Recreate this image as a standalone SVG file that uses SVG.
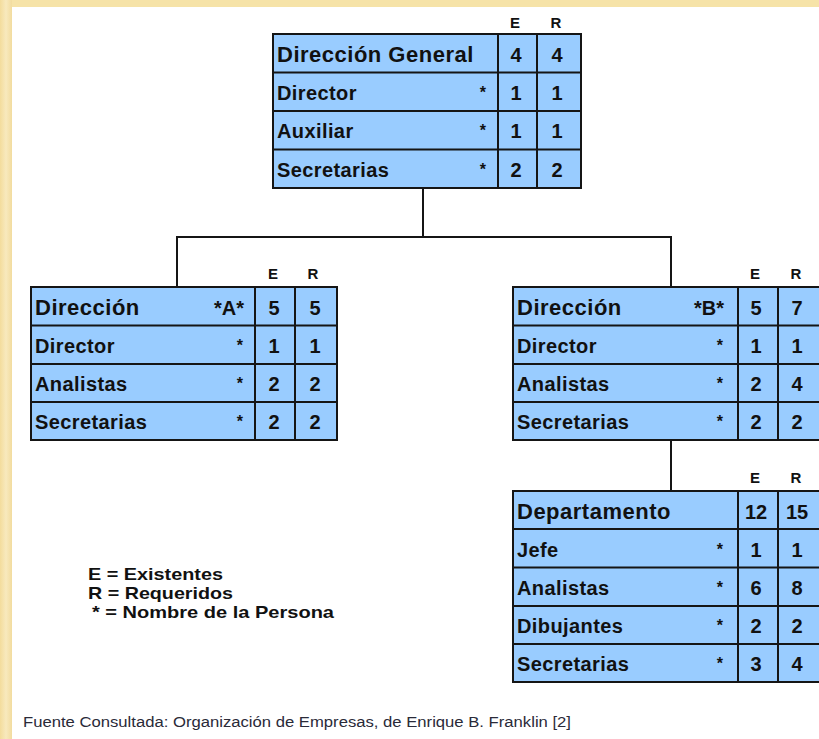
<svg xmlns="http://www.w3.org/2000/svg" width="819" height="739" viewBox="0 0 819 739">
<defs>
<linearGradient id="bgL" x1="0" y1="0" x2="1" y2="0">
<stop offset="0" stop-color="#f3dc9c"/>
<stop offset="0.5" stop-color="#f8e9bd"/>
<stop offset="1" stop-color="#f2dc9f"/>
</linearGradient>
<style>
.cell{fill:#99ccff;stroke:#151515;stroke-width:2}
.ln{stroke:#151515;stroke-width:2;fill:none}
.hd{font-family:"Liberation Sans",Arial,sans-serif;font-weight:bold;font-size:22px;letter-spacing:0.5px;fill:#111}
.rw{font-family:"Liberation Sans",Arial,sans-serif;font-weight:bold;font-size:20px;letter-spacing:0.4px;fill:#111}
.st{font-family:"Liberation Sans",Arial,sans-serif;font-weight:bold;font-size:16px;fill:#111;text-anchor:end}
.sh{font-family:"Liberation Sans",Arial,sans-serif;font-weight:bold;font-size:20px;fill:#111;text-anchor:end}
.nm{font-family:"Liberation Sans",Arial,sans-serif;font-weight:bold;font-size:20px;fill:#111;text-anchor:middle}
.er{font-family:"Liberation Sans",Arial,sans-serif;font-weight:bold;font-size:15px;fill:#111;text-anchor:middle}
.lg{font-family:"Liberation Sans",Arial,sans-serif;font-weight:bold;font-size:17px;fill:#111}
.ft{font-family:"Liberation Sans",Arial,sans-serif;font-size:14px;fill:#2a2a38}
</style>
</defs>
<rect x="0" y="0" width="819" height="739" fill="#f6e3a8"/>
<rect x="0" y="0" width="12" height="739" fill="url(#bgL)"/>
<rect x="12" y="7" width="807" height="732" fill="#ffffff"/>

<g id="connectors">
<path class="ln" d="M423,188 V237"/>
<path class="ln" d="M177,287 V237 H671 V287"/>
<path class="ln" d="M671,440 V491"/>
</g>

<g id="direccion-general">
<rect class="cell" x="273" y="34" width="308" height="154"/>
<path class="ln" d="M273,72.5 H581 M273,111 H581 M273,149.5 H581 M498,34 V188 M537,34 V188"/>
<text class="er" x="515" y="28">E</text>
<text class="er" x="556" y="28">R</text>
<text class="hd" x="277" y="62">Dirección General</text>
<text class="nm" x="516" y="62">4</text>
<text class="nm" x="557" y="62">4</text>
<text class="rw" x="277" y="100">Director</text>
<text class="st" x="486" y="98">*</text>
<text class="nm" x="516" y="100">1</text>
<text class="nm" x="557" y="100">1</text>
<text class="rw" x="277" y="138">Auxiliar</text>
<text class="st" x="486" y="136">*</text>
<text class="nm" x="516" y="138">1</text>
<text class="nm" x="557" y="138">1</text>
<text class="rw" x="277" y="176.5">Secretarias</text>
<text class="st" x="486" y="174.5">*</text>
<text class="nm" x="516" y="176.5">2</text>
<text class="nm" x="557" y="176.5">2</text>
</g>

<g id="direccion-a">
<rect class="cell" x="31" y="287" width="306" height="153"/>
<path class="ln" d="M31,325.5 H337 M31,364 H337 M31,402 H337 M255,287 V440 M295,287 V440"/>
<text class="er" x="273" y="279">E</text>
<text class="er" x="313" y="279">R</text>
<text class="hd" x="35" y="315">Dirección</text>
<text class="sh" x="244" y="315">*A*</text>
<text class="nm" x="274" y="315">5</text>
<text class="nm" x="315" y="315">5</text>
<text class="rw" x="35" y="353">Director</text>
<text class="st" x="243" y="351">*</text>
<text class="nm" x="274" y="353">1</text>
<text class="nm" x="315" y="353">1</text>
<text class="rw" x="35" y="391">Analistas</text>
<text class="st" x="243" y="389">*</text>
<text class="nm" x="274" y="391">2</text>
<text class="nm" x="315" y="391">2</text>
<text class="rw" x="35" y="429">Secretarias</text>
<text class="st" x="243" y="427">*</text>
<text class="nm" x="274" y="429">2</text>
<text class="nm" x="315" y="429">2</text>
</g>

<g id="direccion-b">
<rect class="cell" x="513" y="287" width="308" height="153"/>
<path class="ln" d="M513,325.5 H821 M513,364 H821 M513,402 H821 M738,287 V440 M778,287 V440"/>
<text class="er" x="755" y="279">E</text>
<text class="er" x="796" y="279">R</text>
<text class="hd" x="517" y="315">Dirección</text>
<text class="sh" x="724" y="315">*B*</text>
<text class="nm" x="756" y="315">5</text>
<text class="nm" x="797" y="315">7</text>
<text class="rw" x="517" y="353">Director</text>
<text class="st" x="723" y="351">*</text>
<text class="nm" x="756" y="353">1</text>
<text class="nm" x="797" y="353">1</text>
<text class="rw" x="517" y="391">Analistas</text>
<text class="st" x="723" y="389">*</text>
<text class="nm" x="756" y="391">2</text>
<text class="nm" x="797" y="391">4</text>
<text class="rw" x="517" y="429">Secretarias</text>
<text class="st" x="723" y="427">*</text>
<text class="nm" x="756" y="429">2</text>
<text class="nm" x="797" y="429">2</text>
</g>

<g id="departamento">
<rect class="cell" x="513" y="491" width="308" height="191"/>
<path class="ln" d="M513,529 H821 M513,567.5 H821 M513,606 H821 M513,644 H821 M738,491 V682 M778,491 V682"/>
<text class="er" x="755" y="483">E</text>
<text class="er" x="796" y="483">R</text>
<text class="hd" x="517" y="519">Departamento</text>
<text class="nm" x="756" y="519">12</text>
<text class="nm" x="797" y="519">15</text>
<text class="rw" x="517" y="557">Jefe</text>
<text class="st" x="723" y="555">*</text>
<text class="nm" x="756" y="557">1</text>
<text class="nm" x="797" y="557">1</text>
<text class="rw" x="517" y="595">Analistas</text>
<text class="st" x="723" y="593">*</text>
<text class="nm" x="756" y="595">6</text>
<text class="nm" x="797" y="595">8</text>
<text class="rw" x="517" y="633">Dibujantes</text>
<text class="st" x="723" y="631">*</text>
<text class="nm" x="756" y="633">2</text>
<text class="nm" x="797" y="633">2</text>
<text class="rw" x="517" y="671">Secretarias</text>
<text class="st" x="723" y="669">*</text>
<text class="nm" x="756" y="671">3</text>
<text class="nm" x="797" y="671">4</text>
</g>

<g id="leyenda">
<text class="lg" x="88" y="580" textLength="135" lengthAdjust="spacingAndGlyphs">E = Existentes</text>
<text class="lg" x="88" y="599" textLength="145" lengthAdjust="spacingAndGlyphs">R = Requeridos</text>
<text class="lg" x="92" y="618" textLength="242" lengthAdjust="spacingAndGlyphs">* = Nombre de la Persona</text>
</g>

<text class="ft" x="23" y="727" textLength="548" lengthAdjust="spacingAndGlyphs">Fuente Consultada: Organización de Empresas, de Enrique B. Franklin [2]</text>
</svg>
